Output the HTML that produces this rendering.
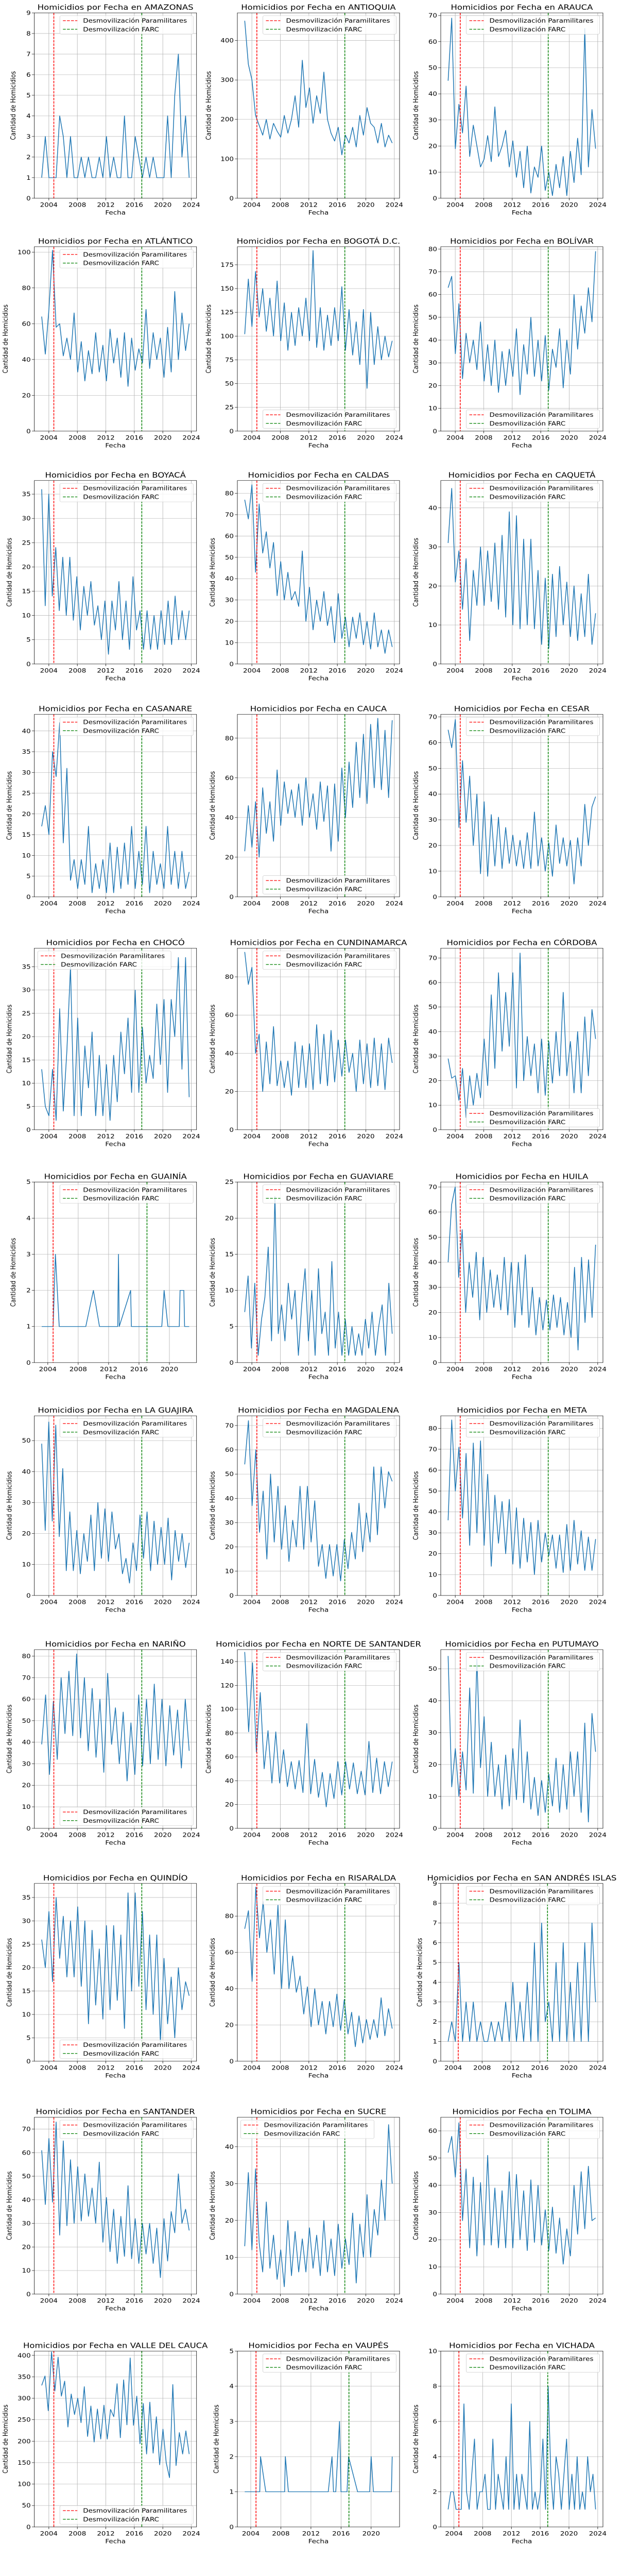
<!DOCTYPE html>
<html><head><meta charset="utf-8"><title>Homicidios por departamento</title>
<style>
html,body{margin:0;padding:0;background:#fff;width:100%;height:100%;overflow:hidden;}
svg{display:block;position:fixed;left:0;top:0;width:100vw;height:100vh;font-family:"DejaVu Sans","Liberation Sans",sans-serif;}
</style></head>
<body>
<svg id="fig" viewBox="0 0 1208 5990" preserveAspectRatio="none" xmlns="http://www.w3.org/2000/svg">
<rect x="0" y="0" width="1208" height="5990" fill="#fff"/>
</svg>
<script>
const demobParamilitares = 2004.7;
const demobFarc = 2017.05;
const xTickYears = [2004, 2008, 2012, 2016, 2020, 2024];

const amazonasValues = [1,3,1,1,1,4,3,1,3,1,1,2,1,2,1,1,2,1,3,1,2,1,1,4,1,1,3,2,1,2,1,2,1,1,1,4,1,5,7,2,4,1];
const antioquiaValues = [450,340,300,210,185,160,200,150,190,170,155,210,165,200,260,180,350,230,280,190,260,215,320,200,165,145,180,110,160,140,180,130,210,160,230,190,180,140,190,130,160,140];
const araucaValues = [45,69,19,36,25,43,16,28,20,12,15,24,14,35,16,20,26,12,22,8,18,4,20,2,12,8,20,3,10,1,13,4,16,1,18,6,23,9,65,12,34,19];
const atlanticoValues = [64,43,68,101,58,60,42,52,40,66,33,50,28,45,32,55,33,48,28,57,38,52,30,55,25,52,34,46,38,68,35,55,40,52,30,58,33,78,40,66,45,60];
const bogotaValues = [102,160,110,168,120,150,105,140,100,158,95,135,85,125,90,130,100,140,95,190,88,130,85,122,90,130,95,152,85,128,80,115,70,128,45,125,70,110,75,100,78,95];
const bolivarValues = [63,68,34,56,23,43,30,40,27,48,22,38,20,40,17,35,20,36,24,45,16,38,25,50,24,40,22,42,18,36,28,45,19,40,25,60,36,55,43,63,48,79];
const boyacaValues = [36,12,35,14,24,11,22,10,22,9,18,7,16,10,17,8,12,5,13,2,13,7,17,5,13,3,18,7,11,3,11,3,10,3,11,4,13,4,14,5,11,5,11];
const caldasValues = [77,68,84,43,75,52,62,45,57,32,48,30,43,30,34,27,53,20,36,16,30,20,34,18,27,10,33,12,22,8,22,12,24,9,20,7,24,8,16,5,16,8];
const caquetaValues = [31,45,21,29,14,27,6,24,15,30,15,29,16,31,14,33,12,39,10,38,9,32,10,32,9,24,5,22,4,23,7,25,10,21,7,20,6,18,7,23,5,13];
const casanareValues = [17,22,15,35,29,42,13,31,4,9,2,9,3,17,1,8,2,9,1,13,1,12,2,13,3,17,2,11,3,17,1,11,3,8,2,17,3,11,2,11,2,6];
const caucaValues = [23,46,25,48,20,55,32,48,28,64,36,58,42,54,40,57,36,60,40,52,34,58,38,56,23,57,28,65,40,68,45,78,50,82,47,87,55,90,54,84,50,89];
const cesarValues = [65,58,69,27,53,29,47,20,40,9,37,8,32,12,31,11,27,13,24,12,22,11,25,11,33,12,23,10,21,8,28,13,23,12,22,5,23,12,36,20,35,39];
const chocoValues = [13,5,3,13,2,26,4,17,35,3,24,3,18,9,21,3,16,3,14,2,16,6,21,12,24,8,30,8,22,10,16,11,27,14,28,8,28,20,37,13,37,7];
const cundinamarcaValues = [93,76,85,40,50,20,46,24,54,23,36,22,36,18,46,22,44,22,45,21,55,24,50,23,52,25,47,28,47,30,40,20,47,24,45,22,48,23,45,21,48,35];
const cordobaValues = [29,21,22,12,25,5,22,10,23,13,37,18,55,25,64,32,56,34,64,17,72,20,38,22,35,15,37,14,36,19,40,22,56,22,36,15,40,15,46,22,49,37];
const guainiaDates = [2003.2,2004.7,2005.0,2005.5,2009.0,2010.0,2010.8,2013.2,2013.3,2013.4,2014.9,2015.0,2019.0,2019.3,2019.8,2021.3,2021.4,2021.9,2022.0,2022.6];
const guainiaValues = [1,1,3,1,1,2,1,1,3,1,2,1,1,2,1,1,2,2,1,1];
const guaviareValues = [7,12,2,11,1,6,9,16,3,23,4,8,3,11,6,10,1,8,13,3,10,1,13,4,7,1,14,2,7,1,6,1,5,1,4,1,6,2,7,1,5,8,1,11,4];
const huilaValues = [40,63,70,34,53,20,40,26,44,17,42,20,37,22,35,21,42,19,40,14,40,19,43,14,30,11,26,13,25,13,27,14,26,11,24,10,38,5,42,16,41,18,47];
const laGuajiraValues = [49,21,56,24,55,19,41,8,27,8,21,7,20,11,26,8,30,12,28,11,27,15,20,7,12,4,17,8,26,12,27,8,24,10,22,10,25,5,21,11,20,9,17];
const magdalenaValues = [54,72,37,60,26,43,15,50,22,45,19,37,14,31,20,45,19,45,22,39,12,21,7,21,8,21,6,23,11,26,15,38,18,34,22,53,25,53,36,51,47];
const metaValues = [36,84,50,71,37,68,24,73,30,74,24,58,14,48,25,45,20,46,15,42,13,37,16,35,10,36,16,30,19,29,13,29,11,34,12,36,15,31,12,28,12,27];
const narinoValues = [39,62,25,59,32,70,44,73,43,81,42,70,36,65,33,60,26,72,39,56,30,54,22,49,25,62,29,60,30,67,32,60,29,57,34,55,28,60,36];
const norteSantanderValues = [148,81,139,64,114,50,82,38,81,38,66,35,56,33,57,30,88,29,58,26,47,18,46,25,56,28,56,33,55,29,48,28,73,30,59,29,56,35,56];
const putumayoValues = [54,13,25,10,24,12,44,11,53,19,35,10,27,10,20,6,23,7,25,9,34,8,24,6,16,4,15,5,17,7,22,5,20,6,24,10,24,5,33,2,36,24];
const quindioValues = [26,20,32,17,35,22,31,18,30,18,33,16,30,8,28,12,24,9,29,11,29,13,27,7,36,15,36,16,32,11,27,10,27,4,22,8,18,5,20,11,17,14];
const risaraldaValues = [73,83,44,96,68,88,60,78,48,86,40,78,40,58,38,47,26,41,19,40,20,33,15,33,19,37,17,34,15,27,8,25,10,23,12,23,13,35,14,29,18];
const sanAndresValues = [1,2,1,5,1,3,1,3,1,2,1,1,2,1,2,1,3,1,4,1,3,1,4,1,6,1,7,2,3,1,5,1,6,1,4,1,5,1,6,1,7,3];
const santanderValues = [61,38,66,39,73,25,65,29,57,30,54,31,51,33,45,30,56,22,41,18,36,13,33,16,46,15,32,13,30,17,30,13,28,7,32,14,35,26,51,30,36,27];
const sucreValues = [13,33,12,34,14,6,25,7,16,4,12,2,20,5,17,6,15,6,18,7,16,5,20,6,15,5,19,7,15,8,22,3,19,10,27,10,23,16,31,20,46,30];
const tolimaValues = [52,58,43,63,27,46,17,43,14,41,18,51,18,39,17,38,17,45,17,44,20,38,16,42,19,40,18,31,16,32,15,28,11,24,14,40,22,45,24,47,27,28];
const valleValues = [330,352,271,408,317,396,305,340,233,310,262,300,243,327,211,282,198,275,205,284,205,274,257,334,208,343,238,394,237,305,194,288,170,291,172,257,145,228,150,115,332,143,220,170,224,170];
const vaupesDates = [2003.2,2005.2,2005.3,2006.0,2008.5,2008.6,2009.0,2014.3,2014.8,2015.0,2015.3,2015.8,2016.0,2016.8,2017.0,2018.2,2019.8,2020.0,2020.3,2022.7,2022.8];
const vaupesValues = [1,1,2,1,1,2,1,1,2,1,1,3,1,1,2,1,1,2,1,1,2];
const vichadaValues = [1,2,2,1,1,1,7,2,1,3,5,1,2,2,3,1,1,5,1,3,2,1,4,1,7,1,3,1,3,2,1,6,1,2,1,2,5,1,8,3,1,4,3,1,3,5,1,3,1,4,1,2,1,4,2,3,1];

const panels = [
 {name:'AMAZONAS', vals:amazonasValues, ymax:9, step:1, legend:'ur'},
 {name:'ANTIOQUIA', vals:antioquiaValues, ymax:470, step:100, legend:'ur'},
 {name:'ARAUCA', vals:araucaValues, ymax:71, step:10, legend:'ur'},
 {name:'ATLÁNTICO', vals:atlanticoValues, ymax:103, step:20, legend:'ur'},
 {name:'BOGOTÁ D.C.', vals:bogotaValues, ymax:194, step:25, legend:'lr'},
 {name:'BOLÍVAR', vals:bolivarValues, ymax:81, step:10, legend:'lr'},
 {name:'BOYACÁ', vals:boyacaValues, ymax:37.8, step:5, legend:'ur'},
 {name:'CALDAS', vals:caldasValues, ymax:86, step:10, legend:'ur'},
 {name:'CAQUETÁ', vals:caquetaValues, ymax:47, step:10, legend:'ur'},
 {name:'CASANARE', vals:casanareValues, ymax:44, step:5, legend:'ur'},
 {name:'CAUCA', vals:caucaValues, ymax:92, step:20, legend:'lr'},
 {name:'CESAR', vals:cesarValues, ymax:71, step:10, legend:'ur'},
 {name:'CHOCÓ', vals:chocoValues, ymax:39, step:5, legend:'ul'},
 {name:'CUNDINAMARCA', vals:cundinamarcaValues, ymax:95, step:20, legend:'ur'},
 {name:'CÓRDOBA', vals:cordobaValues, ymax:74, step:10, legend:'lr'},
 {name:'GUAINÍA', vals:guainiaValues, dates:guainiaDates, ymax:5, step:1, legend:'ur'},
 {name:'GUAVIARE', vals:guaviareValues, ymax:25, step:5, legend:'ur'},
 {name:'HUILA', vals:huilaValues, ymax:72, step:10, legend:'ur'},
 {name:'LA GUAJIRA', vals:laGuajiraValues, ymax:58, step:10, legend:'ur'},
 {name:'MAGDALENA', vals:magdalenaValues, ymax:74, step:10, legend:'ur'},
 {name:'META', vals:metaValues, ymax:86, step:10, legend:'ur'},
 {name:'NARIÑO', vals:narinoValues, ymax:83, step:10, legend:'lr'},
 {name:'NORTE DE SANTANDER', vals:norteSantanderValues, ymax:150, step:20, legend:'ur'},
 {name:'PUTUMAYO', vals:putumayoValues, ymax:56, step:10, legend:'ur'},
 {name:'QUINDÍO', vals:quindioValues, ymax:38, step:5, legend:'lr'},
 {name:'RISARALDA', vals:risaraldaValues, ymax:98, step:20, legend:'ur'},
 {name:'SAN ANDRÉS ISLAS', vals:sanAndresValues, start:2003.3, ymax:9, step:1, legend:'ur'},
 {name:'SANTANDER', vals:santanderValues, ymax:75, step:10, legend:'ur'},
 {name:'SUCRE', vals:sucreValues, ymax:48, step:10, legend:'ul'},
 {name:'TOLIMA', vals:tolimaValues, ymax:65, step:10, legend:'ur'},
 {name:'VALLE DEL CAUCA', vals:valleValues, ymax:410, step:50, legend:'lr'},
 {name:'VAUPÉS', vals:vaupesValues, dates:vaupesDates, ymax:5, step:1, legend:'ur'},
 {name:'VICHADA', vals:vichadaValues, start:2003.2, ymax:10, step:2, legend:'ur'}
];

const NS = 'http://www.w3.org/2000/svg';
const svg = document.getElementById('fig');
function mk(tag, attrs, parent, text){
  const e = document.createElementNS(NS, tag);
  for (const k in attrs) e.setAttribute(k, attrs[k]);
  if (text !== undefined) e.textContent = text;
  parent.appendChild(e);
  return e;
}
const colLefts = [66.7, 461, 856];
const AXW = 315;

panels.forEach((p, idx) => {
  const r = Math.floor(idx / 3), c = idx % 3;
  const L = colLefts[c], T = 30 + 543.7 * r, H = 431 - 2.2 * r, B = T + H, R = L + AXW;
  let dates = p.dates;
  if (!dates) {
    const s = p.start || 2003.0, e = 2023.7, n = p.vals.length;
    dates = p.vals.map((v, i) => s + (e - s) * i / (n - 1));
  }
  const d0 = dates[0], d1 = dates[dates.length - 1], m = (d1 - d0) * 0.05;
  const xmin = d0 - m, xmax = d1 + m;
  const xs = t => L + (t - xmin) / (xmax - xmin) * AXW;
  const ys = v => B - Math.min(v, p.ymax) / p.ymax * H;

  const g = mk('g', {}, svg);
  
  

  const yTicks = [];
  for (let v = 0; v <= p.ymax + 1e-9; v += p.step) yTicks.push(v);
  yTicks.forEach(v => {
    const y = ys(v);
    const gl = mk('line', {x1:L, x2:R, y1:y, y2:y, stroke:'#b0b0b0', 'stroke-width':0.8}, g);
    
    
    mk('line', {x1:L-4.9, x2:L, y1:y, y2:y, stroke:'#000', 'stroke-width':0.8}, g);
    const tl = mk('text', {x:L-7, y:y+4.8, 'text-anchor':'end', 'font-size':13.5, fill:'#000'}, g, String(v));
    
    
  });
  xTickYears.filter(t => t >= xmin && t <= xmax).forEach(t => {
    const x = xs(t);
    const gl = mk('line', {x1:x, x2:x, y1:T, y2:B, stroke:'#b0b0b0', 'stroke-width':0.8}, g);
    
    
    mk('line', {x1:x, x2:x, y1:B, y2:B+4.9, stroke:'#000', 'stroke-width':0.8}, g);
    const tl = mk('text', {x:x, y:B+20, 'text-anchor':'middle', 'font-size':13.5, fill:'#000'}, g, String(t));
    
    
  });

  const pts = p.vals.map((v, i) => xs(dates[i]).toFixed(1) + ',' + ys(v).toFixed(1)).join(' ');
  const line = mk('polyline', {points:pts, fill:'none', stroke:'#1f77b4', 'stroke-width':1.5, 'stroke-linejoin':'round'}, g);
  
  

  const rl = mk('line', {x1:xs(demobParamilitares), x2:xs(demobParamilitares), y1:T, y2:B, stroke:'#ff0000', 'stroke-width':1.5, 'stroke-dasharray':'5.5,2.4'}, g);
  
  
  const gr = mk('line', {x1:xs(demobFarc), x2:xs(demobFarc), y1:T, y2:B, stroke:'#008000', 'stroke-width':1.5, 'stroke-dasharray':'5.5,2.4'}, g);
  
  

  const fr = mk('rect', {x:L, y:T, width:AXW, height:H, fill:'none', stroke:'#000', 'stroke-width':0.8}, g);
  
  

  const LW = 259, LH = 43;
  const lx = p.legend === 'ul' ? L + 6.5 : R - 6.5 - LW;
  const ly = p.legend === 'lr' ? B - 6.5 - LH : T + 6.5;
  const lg = mk('g', {}, g);
  
  
  mk('rect', {x:lx, y:ly, width:LW, height:LH, rx:3, fill:'#fff', 'fill-opacity':0.8, stroke:'#cccccc', 'stroke-width':0.8}, lg);
  [['#ff0000','Desmovilización Paramilitares'],['#008000','Desmovilización FARC']].forEach((e, k) => {
    const cy = ly + 11.5 + k * 20;
    mk('line', {x1:lx+6, x2:lx+34, y1:cy, y2:cy, stroke:e[0], 'stroke-width':1.5, 'stroke-dasharray':'5.5,2.4'}, lg);
    const t = mk('text', {x:lx+45, y:cy+4.8, 'font-size':13.5, fill:'#000'}, lg, e[1]);
    
    
  });

  const title = mk('text', {x:(L+R)/2, y:T-7, 'text-anchor':'middle', 'font-size':16.5, fill:'#000'}, g, 'Homicidios por Fecha en ' + p.name);
  
  
  const xl = mk('text', {x:(L+R)/2, y:B+38, 'text-anchor':'middle', 'font-size':13.5, fill:'#000'}, g, 'Fecha');
  
  
  const digits = String(yTicks[yTicks.length-1]).length;
  const yx = L - (29 + 7.5 * digits);
  const yl = mk('text', {x:yx, y:(T+B)/2, 'text-anchor':'middle', 'font-size':13.5, fill:'#000', transform:'rotate(-90 ' + yx + ' ' + ((T+B)/2) + ')'}, g, 'Cantidad de Homicidios');
  
  
});
</script>
</body></html>
